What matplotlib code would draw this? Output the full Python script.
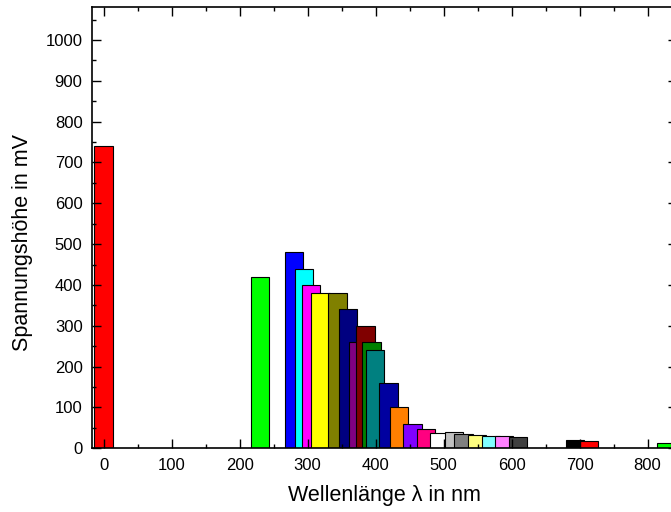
import matplotlib
matplotlib.use("Agg")
import matplotlib.pyplot as plt
from matplotlib.ticker import MultipleLocator

plt.rcParams['font.family'] = ['Liberation Sans', 'DejaVu Sans']

# wavelength (nm) and signal height (mV)
wavelengths = [0, 230, 280, 295, 305, 319, 344, 359, 375, 385, 394, 399, 419,
               434, 454, 474, 494, 515, 529, 549, 570, 589, 609, 693, 713, 828]
heights = [740, 420, 480, 440, 400, 380, 380, 340, 260, 300, 260, 240, 160,
           100, 60, 48, 38, 39, 34, 32, 31, 29, 27, 20, 19, 14]
# Origin-style colour sequence
colors = ['#FF0000', '#00FF00', '#0000FF', '#00FFFF', '#FF00FF', '#FFFF00',
          '#808000', '#000080', '#800080', '#800000', '#008000', '#008080',
          '#0000A0', '#FF8000', '#8000FF', '#FF0080', '#FFFFFF', '#C0C0C0',
          '#808080', '#FFFF80', '#80FFFF', '#FF80FF', '#404040', '#000000',
          '#FF0000', '#00FF00']

fig = plt.figure(figsize=(6.71, 5.12), dpi=100)
ax = fig.add_axes([0.1376, 0.1244, 0.8714, 0.8613])

ax.bar(wavelengths, heights, width=27, color=colors, edgecolor='black', linewidth=0.8)

ax.set_xlim(-16.6, 843.3)
ax.set_ylim(0, 1080)
ax.xaxis.set_major_locator(MultipleLocator(100))
ax.xaxis.set_minor_locator(MultipleLocator(50))
ax.yaxis.set_major_locator(MultipleLocator(100))
ax.yaxis.set_minor_locator(MultipleLocator(50))

for s in ax.spines.values():
    s.set_linewidth(1.2)
ax.tick_params(which='both', direction='in', top=True, right=True, width=1.0, labelsize=12)
ax.tick_params(which='major', length=6.5)
ax.tick_params(which='minor', length=3.2)
ax.tick_params(axis='x', pad=7)
ax.tick_params(axis='y', pad=7)

ax.set_xlabel('Wellenlänge λ in nm', fontsize=15.5)
ax.set_ylabel('Spannungshöhe in mV', fontsize=15.5)
ax.xaxis.set_label_coords(0.5, -0.084)
ax.yaxis.set_label_coords(-0.101, 0.4667)

plt.savefig('out.png', dpi=100)
